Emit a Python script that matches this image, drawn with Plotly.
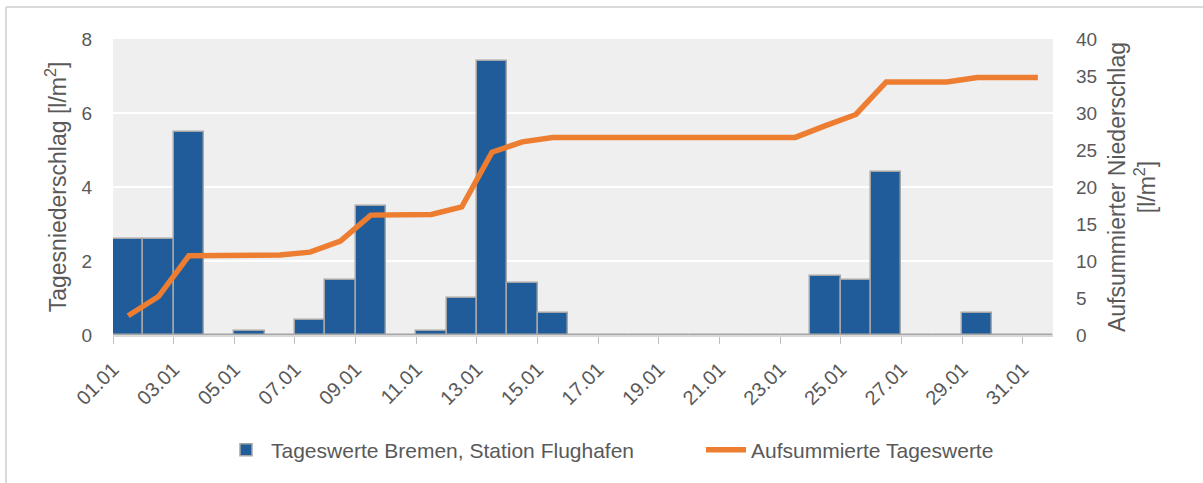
import plotly.graph_objects as go

days = list(range(1, 32))
tick_days = [1, 3, 5, 7, 9, 11, 13, 15, 17, 19, 21, 23, 25, 27, 29, 31]
tick_labels = [f"{d:02d}.01" for d in tick_days]

daily = [2.6, 2.6, 5.5, 0.0, 0.1, 0.0, 0.4, 1.5, 3.5, 0.0,
         0.1, 1.0, 7.4, 1.4, 0.6, 0.0, 0.0, 0.0, 0.0, 0.0,
         0.0, 0.0, 0.0, 1.6, 1.5, 4.4, 0.0, 0.0, 0.6, 0.0, 0.0]
cumulative = [2.6, 5.2, 10.7, 10.7, 10.8, 10.8, 11.2, 12.7, 16.2, 16.2,
              16.3, 17.3, 24.7, 26.1, 26.7, 26.7, 26.7, 26.7, 26.7, 26.7,
              26.7, 26.7, 26.7, 28.3, 29.8, 34.2, 34.2, 34.2, 34.8, 34.8, 34.8]

GRAY_TXT = "#595959"
FONT = "Liberation Sans"

fig = go.Figure()
fig.add_trace(go.Bar(
    x=days, y=daily, name="Tageswerte Bremen, Station Flughafen",
    marker=dict(color="#1F5C99", line=dict(color="#A6A6A6", width=1.5)),
    width=1.0, yaxis="y", legend="legend",
))
fig.add_trace(go.Scatter(
    x=days, y=cumulative, name="Aufsummierte Tageswerte",
    mode="lines", line=dict(color="#ED7D31", width=5.5), yaxis="y2", legend="legend2",
))

L, R, T, B = 113, 150, 39, 148
W, H = 1203, 483
pw, ph = W - L - R, H - T - B

def px_x(p):
    return (p - L) / pw

def px_y(p):
    return (H - B - p) / ph

legend_common = dict(
    orientation="h", xanchor="left", y=px_y(450), yanchor="middle",
    font=dict(family=FONT, size=21, color=GRAY_TXT),
    bgcolor="rgba(0,0,0,0)", itemwidth=40,
)

fig.update_layout(
    width=W, height=H,
    margin=dict(l=L, r=R, t=T, b=B, autoexpand=False),
    paper_bgcolor="white",
    plot_bgcolor="#EFEFEF",
    bargap=0,
    font=dict(family=FONT, color=GRAY_TXT),
    showlegend=True,
    legend=dict(x=px_x(221), **legend_common),
    legend2=dict(x=px_x(701), **legend_common),
    xaxis=dict(
        range=[0.5, 31.5],
        tickmode="array",
        tickvals=[d - 0.5 for d in tick_days],
        ticktext=tick_labels,
        tickangle=-45,
        ticks="outside", ticklen=7, tickcolor="#BFBFBF", tickwidth=1,
        showline=True, linecolor="#D9D9D9", linewidth=1.5,
        showgrid=False, zeroline=False,
        ticklabelstandoff=6,
        tickfont=dict(size=20, color=GRAY_TXT),
    ),
    yaxis=dict(
        range=[0, 8], tickvals=[0, 2, 4, 6, 8],
        showgrid=True, gridcolor="white", gridwidth=2,
        zeroline=False, showline=False,
        ticklabelstandoff=20,
        tickfont=dict(size=19, color=GRAY_TXT),
        title=dict(text="Tagesniederschlag [l/m<sup>2</sup>]", font=dict(size=23, color=GRAY_TXT), standoff=8),
    ),
    yaxis2=dict(
        range=[0, 40], tickvals=list(range(0, 41, 5)),
        overlaying="y", side="right",
        showgrid=False, zeroline=False, showline=False,
        ticklabelstandoff=22,
        tickfont=dict(size=19, color=GRAY_TXT),
        title=dict(text="Aufsummierter Niederschlag<br>[l/m<sup>2</sup>]", font=dict(size=23, color=GRAY_TXT), standoff=12),
    ),
    shapes=[
        dict(type="line", xref="paper", yref="paper",
             x0=px_x(6), x1=px_x(W + 5), y0=px_y(7), y1=px_y(7),
             line=dict(color="#D9D9D9", width=2), layer="above"),
        dict(type="line", xref="paper", yref="paper",
             x0=px_x(6), x1=px_x(6), y0=px_y(7), y1=px_y(H + 5),
             line=dict(color="#D9D9D9", width=2), layer="above"),
    ],
)

fig.write_html(
    "out.html",
    config={"displayModeBar": False},
    post_script="document.body.style.margin='0';document.body.style.overflow='hidden';",
)
